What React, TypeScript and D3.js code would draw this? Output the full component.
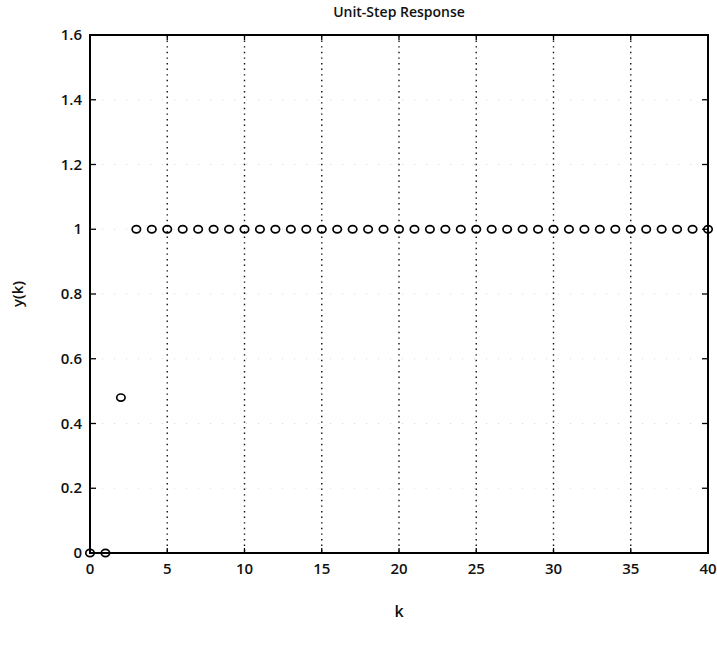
import React from "react";
import * as d3 from "d3";

const kValues: number[] = Array.from({ length: 41 }, (_, i) => i);
const yValues: number[] = [
  0, 0, 0.48, 1, 1, 1, 1, 1, 1, 1,
  1, 1, 1, 1, 1, 1, 1, 1, 1, 1,
  1, 1, 1, 1, 1, 1, 1, 1, 1, 1,
  1, 1, 1, 1, 1, 1, 1, 1, 1, 1,
  1,
];
const xTicks: number[] = [0, 5, 10, 15, 20, 25, 30, 35, 40];
const yTicks: number[] = [0, 0.2, 0.4, 0.6, 0.8, 1, 1.2, 1.4, 1.6];
const yTickLabels: string[] = ["0", "0.2", "0.4", "0.6", "0.8", "1", "1.2", "1.4", "1.6"];

const W = 717;
const H = 650;
const left = 90;
const right = 708;
const top = 35;
const bottom = 553;
const font = "'Open Sans', 'Liberation Sans', sans-serif";

export default function App() {
  const x = d3.scaleLinear().domain([0, 40]).range([left, right]);
  const y = d3.scaleLinear().domain([0, 1.6]).range([bottom, top]);
  const pts = kValues.map((k, i) => ({ k, v: yValues[i] }));
  return (
    <svg width={W} height={H} style={{ position: "absolute", left: 0, top: 0, background: "#fff" }}>
      <rect x={0} y={0} width={W} height={H} fill="#fff" />
      {/* vertical grid */}
      {xTicks.slice(1, -1).map((t) => (
        <line key={"gx" + t} x1={x(t)} x2={x(t)} y1={top} y2={bottom}
          stroke="#111" strokeWidth={1.4} strokeDasharray="1.4,4.2" />
      ))}
      {/* horizontal grid (faint) */}
      {yTicks.slice(1, -1).map((t) => (
        <line key={"gy" + t} x1={left} x2={right} y1={y(t)} y2={y(t)}
          stroke="#ccc" strokeWidth={0.8} strokeDasharray="1,11" />
      ))}
      {/* ticks */}
      {xTicks.map((t) => (
        <g key={"tx" + t}>
          <line x1={x(t)} x2={x(t)} y1={bottom} y2={bottom - 5} stroke="#000" strokeWidth={1.3} />
          <line x1={x(t)} x2={x(t)} y1={top} y2={top + 5} stroke="#000" strokeWidth={1.3} />
          <text x={x(t)} y={bottom + 21} textAnchor="middle" fontFamily={font} fontSize={15} fontWeight={600} fill="#111">{t}</text>
        </g>
      ))}
      {yTicks.map((t, i) => (
        <g key={"ty" + t}>
          <line x1={left} x2={left + 6} y1={y(t)} y2={y(t)} stroke="#000" strokeWidth={1.3} />
          <line x1={right} x2={right - 6} y1={y(t)} y2={y(t)} stroke="#000" strokeWidth={1.3} />
          <text x={left - 8} y={y(t) + 5} textAnchor="end" fontFamily={font} fontSize={15} fontWeight={600} fill="#111">{yTickLabels[i]}</text>
        </g>
      ))}
      {/* frame */}
      <rect x={left} y={top} width={right - left} height={bottom - top} fill="none" stroke="#000" strokeWidth={2} />
      {/* data */}
      {pts.map((p) => (
        <ellipse key={"p" + p.k} cx={x(p.k)} cy={y(p.v)} rx={4.2} ry={3.6} fill="none" stroke="#000" strokeWidth={1.7} />
      ))}
      {/* labels */}
      <text x={(left + right) / 2} y={17} textAnchor="middle" fontFamily={font} fontSize={14} fontWeight={600} fill="#111">Unit-Step Response</text>
      <text x={(left + right) / 2} y={617} textAnchor="middle" fontFamily={font} fontSize={16} fontWeight={600} fill="#111">k</text>
      <text transform={`translate(23, ${(top + bottom) / 2}) rotate(-90)`} textAnchor="middle" fontFamily={font} fontSize={15} fontWeight={600} fill="#111">y(k)</text>
    </svg>
  );
}
